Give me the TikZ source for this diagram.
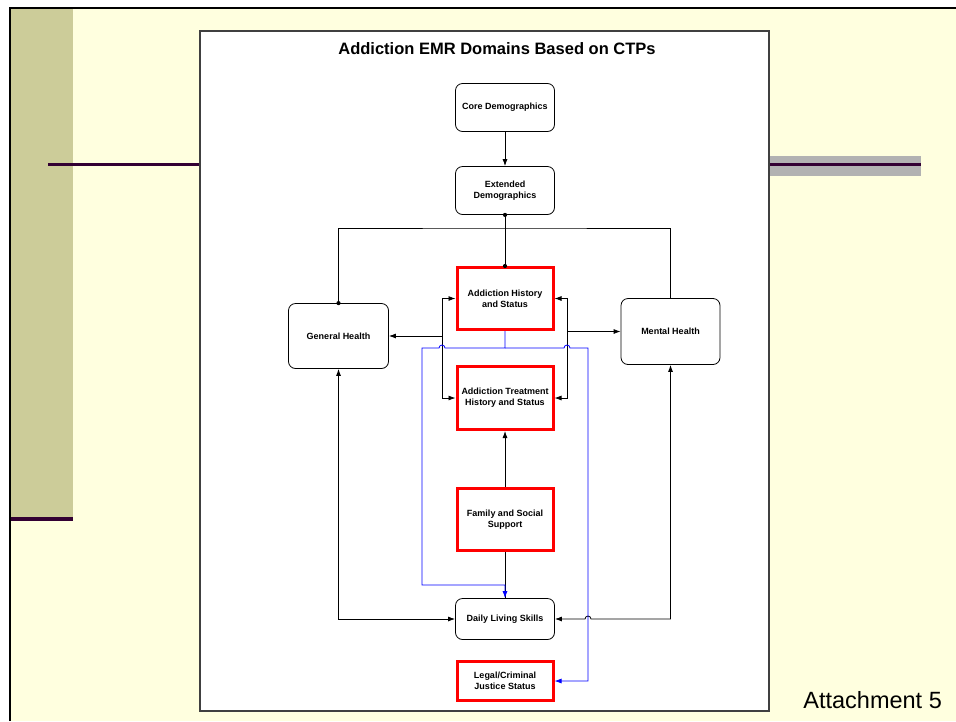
\documentclass[tikz,border=0pt]{standalone}
\usepackage{fontspec}
\setmainfont{Liberation Sans}
\usetikzlibrary{arrows.meta}
\definecolor{slidecream}{HTML}{FFFFDF}
\definecolor{slideolive}{HTML}{CCCC99}
\definecolor{slideplum}{HTML}{330033}
\definecolor{slidegray}{HTML}{B2B2B2}
\tikzset{
  domainbox/.style={draw, rounded corners=7pt, line width=0.8pt, minimum width=99pt, minimum height=48pt, align=center},
  keybox/.style={draw=red, line width=3pt, minimum width=96pt, minimum height=62pt, align=center},
  junction/.style={fill, circle, minimum size=4.2pt}
}
\begin{document}
\begin{tikzpicture}[x=1pt, y=-1pt, ->, >={Latex[length=7pt,width=5pt]}, line width=0.8pt, every node/.style={font=\bfseries\fontsize{9}{11}\selectfont, inner sep=0pt}]
\useasboundingbox (0,0) rectangle (956,721);

				% slide background
				\fill[white] (0,0) rectangle (956,721);
				\fill[slidecream] (10,8) rectangle (956,721);
				\draw[-, line width=2.5pt] (10,721) -- (10,8) -- (956,8);
				\fill[slideolive] (11.3,9.3) rectangle (73,517);
				\fill[slideplum] (11.3,517) rectangle (73,521);
				\fill[slideplum] (48,162.5) rectangle (200,165.5);
				\fill[slidegray] (770,156) rectangle (921,176);
				\fill[slideplum] (770,163) rectangle (921,166);
				\draw[-, fill=white, draw=black!75, line width=1.2pt] (200,31) rectangle (769,711);

				\node [font=\bfseries\fontsize{16.5}{20}\selectfont] (title) at (497,49) {Addiction EMR Domains Based on CTPs};
				\node [font=\fontsize{23.5}{28}\selectfont, anchor=base west] (att) at (803,708) {Attachment 5};

				\node [domainbox] (CD) at (505,107.5) {Core Demographics};
				\node [domainbox] (ED) at (505,190.5) {Extended\\Demographics};
				\node [keybox] (AH) at (505,298.5) {Addiction History\\and Status};
				\node [keybox, minimum height=63pt] (ATH) at (505,398) {Addiction Treatment\\History and Status};
				\node [keybox] (FS) at (505,519.5) {Family and Social\\Support};
				\node [domainbox, minimum height=41pt] (DLS) at (505,619) {Daily Living Skills};
				\node [keybox, minimum height=39pt] (LJ) at (505,681) {Legal/Criminal\\Justice Status};
				\node [domainbox, minimum width=100pt, minimum height=65pt] (GH) at (338.5,336) {General Health};
				\node [domainbox, minimum height=66pt] (MH) at (670.5,331.5) {Mental Health};

				\coordinate (top) at (505,228);
				\coordinate (lbus) at (442,336);
				\coordinate (rbus) at (567,331.5);
				\coordinate (split) at (505,348);

				\draw (CD) edge (ED);
				\draw [-] (ED.south) -- (AH.north);
				\draw [-] (GH.north) |- (top) -| (MH.north);
				\node [junction] (j1) at (ED.south) {};
				\node [junction] (j2) at (AH.north) {};
				\node [junction] (j3) at (GH.north) {};

				\draw [<->] (AH.west) -- ++(-13.5,0) |- (ATH.west);
				\draw [<->] (AH.east) -- ++(12.5,0) |- (ATH.east);
				\draw (lbus) -- (GH.east);
				\draw (rbus) -- (MH.west);

				\draw (FS) edge (ATH);
				\draw [-] (FS) -- (DLS);
				\draw [<->] (GH.south) |- (DLS.west);
				\draw [<->] (MH.south) -- (670.5,619) -- (591,619) arc (0:-180:3) -- (DLS.east);

				\draw [blue] (AH.south) -- (split) -- (445,348) arc (0:-180:3) -- (422,348) -- (422,585) -| (DLS.north);
				\draw [blue] (split) -- (564,348) arc (180:360:3) -- (588,348) |- (LJ.east);

			\end{tikzpicture}
\end{document}
